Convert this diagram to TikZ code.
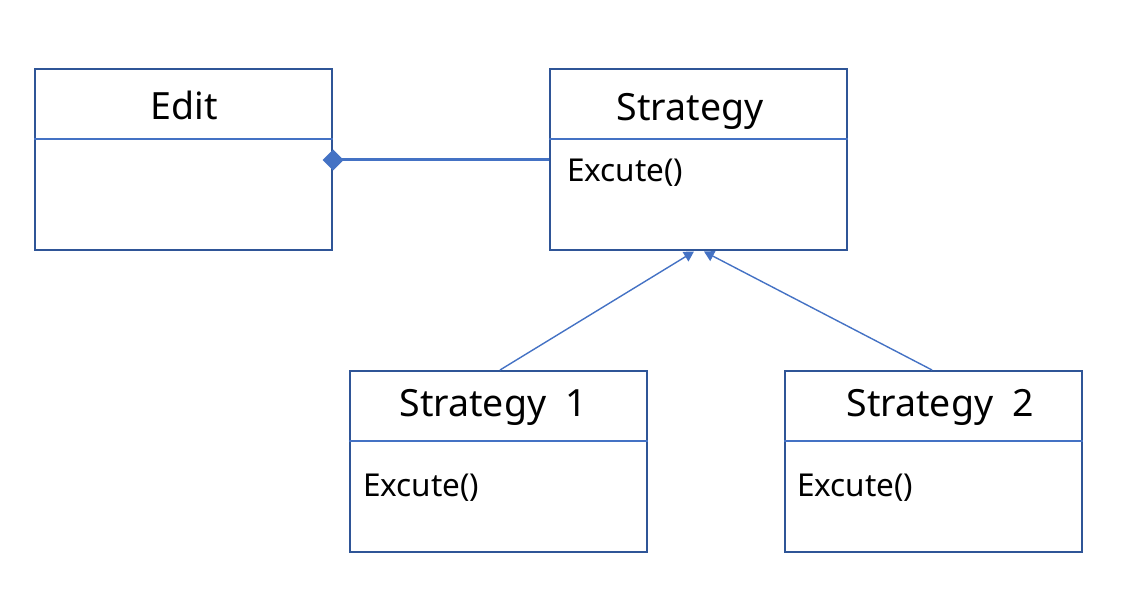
\documentclass[tikz,border=0pt]{standalone}
\usepackage{fontspec}
\setmainfont{Noto Sans}
\usetikzlibrary{arrows.meta,calc}
\definecolor{boxblue}{HTML}{2F5597}
\definecolor{lineblue}{HTML}{4472C4}
\tikzset{
  umlbox/.style={draw=boxblue, line width=2pt, rectangle, inner sep=0pt,
    minimum width=297pt, minimum height=181pt},
  divider/.style={draw=lineblue, line width=2pt},
  titletext/.style={font=\fontsize{37.5}{42}\selectfont, anchor=base, inner sep=0pt},
  optext/.style={font=\fontsize{31.5}{36}\selectfont, anchor=base west, inner sep=0pt},
  inherit/.style={draw=lineblue, line width=1.4pt, -{Triangle[width=11pt,length=10pt]}},
  compose/.style={draw=lineblue, line width=3pt, {Diamond[width=21pt,length=21pt]}-, shorten <=-10.5pt},
}
\begin{document}
\begin{tikzpicture}[x=1pt,y=-1pt]
\useasboundingbox (0,0) rectangle (1138,612);
% boxes
\node[umlbox] (edit) at (183.5,160) {};
\node[umlbox] (strat) at (698,160) {};
\node[umlbox] (s1) at (498,461.5) {};
\node[umlbox] (s2) at (933.5,461.5) {};
% dividers
\draw[divider] (edit.west |- 0,139) -- (edit.east |- 0,139);
\draw[divider] (strat.west |- 0,139) -- (strat.east |- 0,139);
\draw[divider] (s1.west |- 0,441) -- (s1.east |- 0,441);
\draw[divider] (s2.west |- 0,441) -- (s2.east |- 0,441);
% titles
\node[titletext] (tedit) at (184,120) {Edit};
\node[titletext] (tstrat) at (690,121) {Strategy};
\node[titletext] (ts1) at (493,416) {Strategy\hspace{0.5em}1};
\node[titletext] (ts2) at (940,416) {Strategy\hspace{0.5em}2};
% operations
\node[optext] (ostrat) at (567,182) {Excute()};
\node[optext] (os1) at (363,496) {Excute()};
\node[optext] (os2) at (797,496) {Excute()};
% connectors
\coordinate (dia) at (edit.east |- 0,160);
\coordinate (sl) at (strat.west |- 0,160);
\draw[compose] (dia) -- (sl);
\coordinate (s1top) at ($(s1.north)+(2,0)$);
\coordinate (s2top) at ($(s2.north)+(-1.5,0)$);
\coordinate (tipa) at ($(strat.south)+(-4,0)$);
\coordinate (tipb) at ($(strat.south)+(6,0)$);
\draw[inherit] (s1top) -- (tipa);
\draw[inherit] (s2top) -- (tipb);
\end{tikzpicture}
\end{document}
